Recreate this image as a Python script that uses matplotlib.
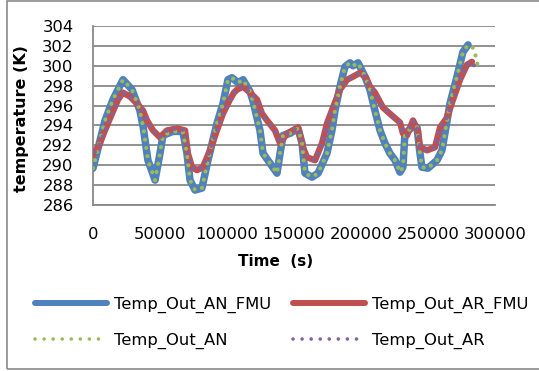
import matplotlib
matplotlib.use("Agg")
import matplotlib.pyplot as plt
from matplotlib.lines import Line2D
from matplotlib.patches import Rectangle

# ---------------- data ----------------
t_an_fmu = [0, 9000, 14900, 22400, 29100, 35000, 37500, 41000, 46300, 50000,
            52200, 59500, 67000, 70100, 72400, 76100, 81300, 85800, 92500, 97000,
            100700, 103700, 108200, 112000, 117200, 119500, 124600, 126900, 132100, 137300,
            139600, 141800, 147000, 153000, 156000, 158200, 163400, 168000, 174600, 178300,
            180600, 184300, 188000, 191800, 194000, 197800, 203000, 206700, 210400, 214200,
            217900, 221600, 225400, 229100, 231300, 232800, 238000, 241800, 244000, 245500,
            250000, 256700, 260400, 262600, 266400, 271600, 276100, 279900]
temp_an_fmu = [289.7, 294.5, 296.6, 298.6, 297.6, 295.5, 293.8, 290.5, 288.5, 291.2,
               293.0, 293.4, 293.4, 291.2, 288.5, 287.5, 287.7, 290.5, 294.2, 296.2,
               298.6, 298.8, 298.3, 298.6, 297.4, 296.4, 293.5, 291.2, 290.2, 289.2,
               291.2, 293.0, 293.2, 293.7, 292.2, 289.2, 288.8, 289.2, 291.2, 293.5,
               295.5, 297.9, 299.9, 300.3, 300.0, 300.3, 298.9, 297.6, 295.5, 293.5,
               292.2, 291.2, 290.5, 289.3, 289.8, 293.2, 293.8, 293.8, 291.2, 289.8,
               289.7, 290.5, 291.5, 293.2, 296.2, 298.9, 301.4, 302.1]

t_ar_fmu = [0, 5200, 8000, 14200, 18700, 22400, 27600, 32800, 37300, 40300,
            44800, 50000, 55200, 62700, 68700, 70800, 73900, 77600, 82000, 87300,
            92500, 97000, 102200, 105200, 107500, 112000, 117200, 122400, 126100, 129900,
            135800, 139600, 144800, 153000, 156700, 159700, 165700, 170900, 174600, 179100,
            184300, 189600, 194000, 199300, 203800, 206700, 210400, 216400, 223100, 229100,
            231300, 234300, 238800, 242500, 244000, 249300, 255200, 259000, 264200, 268700,
            273900, 279100, 282800]
temp_ar_fmu = [291.0, 292.2, 293.2, 295.2, 296.6, 297.3, 296.9, 296.2, 295.5, 294.5,
               293.5, 292.8, 293.5, 293.7, 293.5, 291.2, 289.8, 289.5, 289.8, 291.5,
               293.5, 295.2, 296.6, 297.3, 297.6, 297.9, 297.3, 296.6, 295.2, 294.5,
               293.5, 292.2, 293.2, 293.8, 291.8, 290.8, 290.5, 292.2, 294.2, 295.8,
               297.6, 298.6, 298.9, 299.3, 298.8, 297.9, 297.3, 295.8, 295.0, 294.3,
               293.2, 293.0, 294.5, 293.5, 291.8, 291.5, 291.8, 293.8, 294.8, 296.6,
               298.6, 300.1, 300.4]

# non-FMU series follow the FMU ones and run slightly longer
t_an_tail = [283600, 285800, 287300]
temp_an_tail = [301.8, 300.9, 299.9]
t_ar_tail = [286600]
temp_ar_tail = [299.5]

t_an = t_an_fmu + t_an_tail
temp_an = temp_an_fmu + temp_an_tail
t_ar = t_ar_fmu + t_ar_tail
temp_ar = temp_ar_fmu + temp_ar_tail

series_labels = ["Temp_Out_AN_FMU", "Temp_Out_AR_FMU", "Temp_Out_AN", "Temp_Out_AR"]
x_ticks = [0, 50000, 100000, 150000, 200000, 250000, 300000]
y_ticks = list(range(286, 305, 2))

# ---------------- style ----------------
BLUE = "#4F81BD"
RED = "#C0504D"
GREEN = "#9BBB59"
PURPLE = "#8064A2"
GRID = "#898989"
FONT = "DejaVu Sans"

W, H = 539, 371
fig = plt.figure(figsize=(W / 100, H / 100), dpi=100)
fig.patch.set_facecolor("white")

# outer chart border
fig.patches.append(Rectangle((7 / W, 1 - 369 / H), (545 - 7) / W, (369 - 1) / H,
                             transform=fig.transFigure, fill=False,
                             edgecolor="#8a8a8a", linewidth=1.2))

x0, x1 = 93, 495
y0, y1 = 26, 205
ax = fig.add_axes([x0 / W, 1 - y1 / H, (x1 - x0) / W, (y1 - y0) / H])

l1, = ax.plot(t_an_fmu, temp_an_fmu, color=BLUE, lw=5.4, solid_capstyle="round",
              solid_joinstyle="round", zorder=3)
l2, = ax.plot(t_ar_fmu, temp_ar_fmu, color=RED, lw=4.6, solid_capstyle="round",
              solid_joinstyle="round", zorder=4)
l3, = ax.plot(t_an, temp_an, color=GREEN, lw=3.0, linestyle=(0, (0.01, 2.0)),
              dash_capstyle="round", zorder=5)
l4, = ax.plot(t_ar, temp_ar, color=PURPLE, lw=3.0, linestyle=(1.0, (0.01, 2.0)),
              dash_capstyle="round", zorder=6)

ax.set_xlim(0, 300000)
ax.set_ylim(286, 304)
ax.set_xticks(x_ticks)
ax.set_xticklabels([str(v) for v in x_ticks])
ax.set_yticks(y_ticks)
ax.set_yticklabels([str(v) for v in y_ticks])
ax.tick_params(axis="both", length=0, labelsize=11.8)
ax.tick_params(axis="x", pad=16)
ax.tick_params(axis="y", pad=14)
for lab in ax.get_xticklabels() + ax.get_yticklabels():
    lab.set_fontfamily(FONT)

ax.grid(axis="y", color=GRID, linewidth=1.3)
ax.set_axisbelow(True)
for side in ["top", "right"]:
    ax.spines[side].set_visible(False)
for side in ["left", "bottom"]:
    ax.spines[side].set_color(GRID)
    ax.spines[side].set_linewidth(1.3)

fig.text(22 / W, 1 - 119 / H, "temperature (K)", rotation=90, ha="center", va="center",
         fontsize=11.5, fontweight="bold", family=FONT)
fig.text(276 / W, 1 - 262 / H, "Time  (s)", ha="center", va="center",
         fontsize=11, fontweight="bold", family=FONT)

handles = [
    Line2D([], [], color=BLUE, lw=4.3, solid_capstyle="round"),
    Line2D([], [], color=GREEN, lw=2.6, linestyle=(0, (0.01, 2.5)), dash_capstyle="round"),
    Line2D([], [], color=RED, lw=4.3, solid_capstyle="round"),
    Line2D([], [], color=PURPLE, lw=2.6, linestyle=(0, (0.01, 2.5)), dash_capstyle="round"),
]
labels = [series_labels[0], series_labels[2], series_labels[1], series_labels[3]]
fig.legend(handles, labels, ncol=2, loc="center", bbox_to_anchor=(281.5 / W, 1 - 323 / H),
           frameon=False, prop={"family": FONT, "size": 11.8},
           handlelength=4.4, handletextpad=0.45, columnspacing=1.3, labelspacing=1.2)

fig.savefig("out.png", dpi=100)
